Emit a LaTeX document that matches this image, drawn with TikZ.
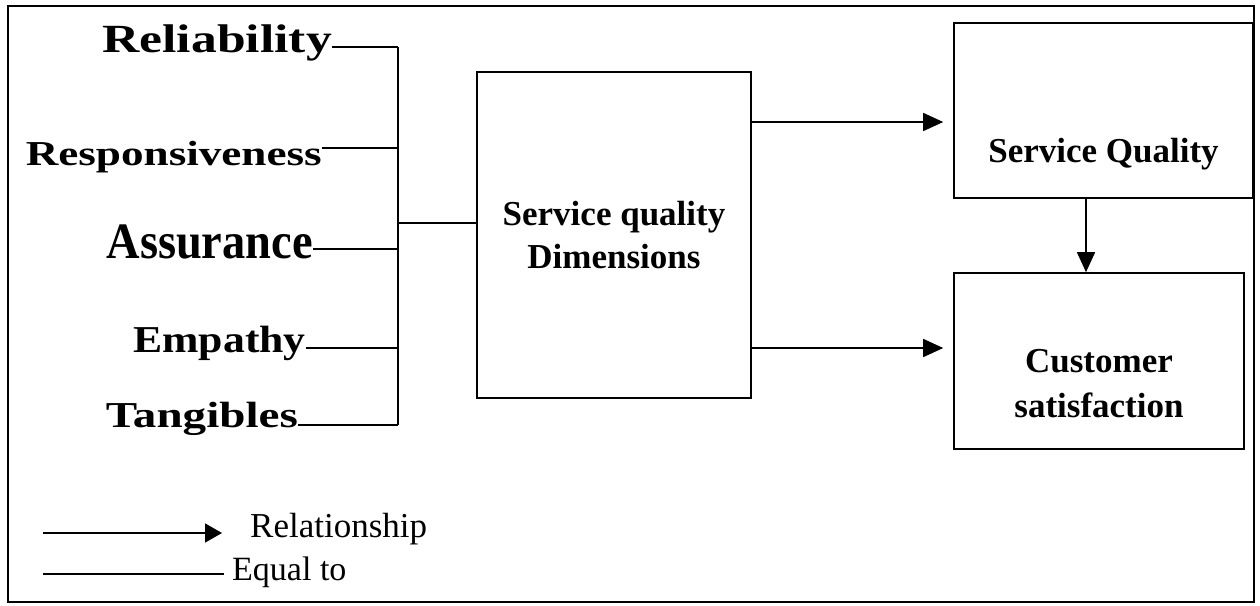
\documentclass[tikz,border=0pt]{standalone}
\usepackage{fontspec}
\setmainfont{Liberation Serif}
\usetikzlibrary{arrows.meta}
\newcommand\dimtext[3]{\scalebox{#1}[1]{\fontsize{#2}{#2}\selectfont #3}}
\begin{document}
\begin{tikzpicture}[x=1pt,y=-1pt,
  dimlabel/.style={inner sep=0pt, anchor=base east, font=\bfseries},
  conn/.style={line width=1.5pt},
  relarrow/.style={line width=1.5pt, -{Triangle[length=20pt,width=18pt]}},
  boxnode/.style={draw, line width=1.6pt, inner sep=0pt},
  boxtext/.style={inner sep=0pt, font=\bfseries\fontsize{35}{45}\selectfont, align=center}]
\useasboundingbox (0,0) rectangle (1260,605);
\draw[line width=2.5pt] (8,6) rectangle (1254,602);
% dimension labels
\node[dimlabel] (rel) at (332,52) {\dimtext{1.29}{40}{Reliability}};
\node[dimlabel] (res) at (322,165) {\dimtext{1.29}{35}{Responsiveness}};
\node[dimlabel] (ass) at (313,258) {\dimtext{0.91}{51}{Assurance}};
\node[dimlabel] (emp) at (306,352) {\dimtext{1.15}{38}{Empathy}};
\node[dimlabel] (tan) at (298,427) {\dimtext{1.29}{36.5}{Tangibles}};
% bus coordinates
\coordinate (b1) at (398,47);
\coordinate (b2) at (398,148);
\coordinate (b3) at (398,249);
\coordinate (b4) at (398,348);
\coordinate (b5) at (398,425);
\coordinate (bm) at (398,223);
% boxes
\node[boxnode, minimum width=274pt, minimum height=326pt, font=\bfseries\fontsize{35}{43}\selectfont, align=center] (sqd) at (614,235) {Service quality\\Dimensions};
\node[boxnode, minimum width=299pt, minimum height=175pt] (sq) at (1103.5,110.5) {};
\node[boxtext, anchor=base] (sqt) at (1103.5,162) {Service Quality};
\node[boxnode, minimum width=290pt, minimum height=176pt] (cs) at (1099,361) {};
\node[boxtext, anchor=north] (cst) at (1099,349) {Customer\\satisfaction};
% connectors
\draw[conn] (rel.base east |- b1) -- (b1);
\draw[conn] (res.base east |- b2) -- (b2);
\draw[conn] (ass.base east |- b3) -- (b3);
\draw[conn] (emp.base east |- b4) -- (b4);
\draw[conn] (tan.base east |- b5) -- (b5);
\draw[conn] (b1) -- (b5);
\draw[conn] (bm) -- (sqd.west |- bm);
\coordinate (a1) at (800,122);
\coordinate (a2) at (800,348);
\coordinate (d1) at (1086,300);
\draw[relarrow, shorten >=10pt] (sqd.east |- a1) -- (sq.west |- a1);
\draw[relarrow, shorten >=10pt] (sqd.east |- a2) -- (cs.west |- a2);
\draw[relarrow] (sq.south -| d1) -- (cs.north -| d1);
% legend
\coordinate (l1) at (43,533);
\coordinate (l2) at (43,574);
\node[inner sep=0pt, anchor=base west, font=\fontsize{35}{35}\selectfont] (relt) at (250,537) {Relationship};
\node[inner sep=0pt, anchor=base west, font=\fontsize{34}{34}\selectfont] (eqt) at (232,580) {Equal to};
\draw[line width=1.5pt, -{Triangle[length=17pt,width=19pt]}] (l1) -- ([xshift=-28pt]relt.west |- l1);
\draw[conn] (l2) -- ([xshift=-8pt]eqt.west |- l2);
\end{tikzpicture}
\end{document}
